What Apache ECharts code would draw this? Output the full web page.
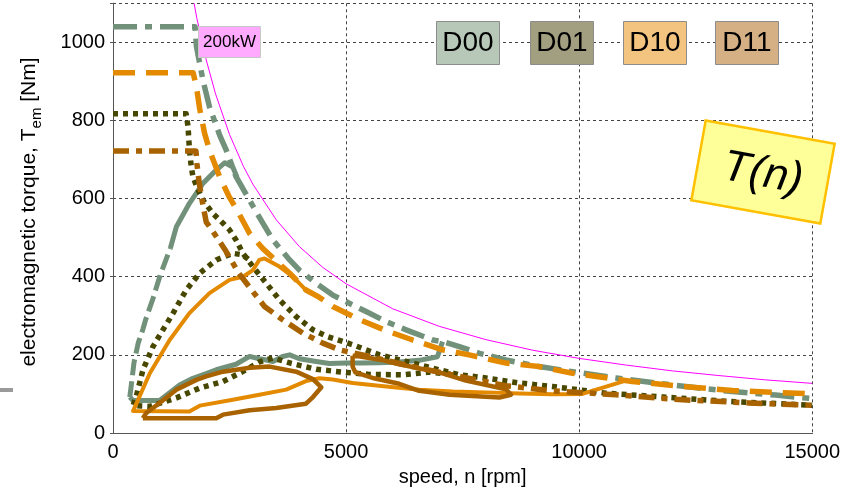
<!DOCTYPE html>
<html>
<head>
<meta charset="utf-8">
<script src="https://cdn.jsdelivr.net/npm/echarts@6/dist/echarts.min.js"></script>
<style>
  html, body { margin: 0; padding: 0; background: #ffffff; }
  #chart { width: 843px; height: 494px; }
</style>
</head>
<body>
<div id="chart"></div>
<script>
const FONT = '"Liberation Sans", Arial, Helvetica, sans-serif';

// axis ticks
const speedTicks = [0, 5000, 10000, 15000];
const torqueTicks = [0, 200, 400, 600, 800, 1000];

// design variants
const designNames = ['D00', 'D01', 'D10', 'D11'];
const lineColors = ['#72917a', '#474700', '#e38a00', '#a86300'];
const boxColors = ['#b8c8b8', '#a29f80', '#f2c480', '#d4b084'];

// 200 kW constant-power limit [rpm, Nm]
const power200kW = [[1740, 1100], [1800, 1061], [2000, 955], [2200, 868], [2500, 764], [2800, 682],
  [3000, 637], [3500, 546], [4000, 477], [4500, 424], [5000, 382], [6000, 318], [7000, 273],
  [8000, 239], [9000, 212], [10000, 191], [11000, 174], [12000, 159], [13000, 147], [14000, 136], [15000, 127]];

// D00: maximum torque envelope
const d00Envelope = [[0, 1040], [1760, 1040], [1790, 990], [1860, 946], [1930, 903], [2070, 835], [2290, 762],
  [2430, 724], [2640, 656], [2930, 596], [3214, 537], [3430, 494], [3790, 443], [4000, 417], [4360, 383],
  [4715, 353], [5070, 332], [5430, 311], [5860, 285], [6290, 264], [6860, 238], [7070, 234], [7430, 221],
  [7860, 204], [8430, 187], [9140, 170], [9860, 157], [10790, 141], [11640, 128], [12570, 115],
  [13290, 106], [14220, 97], [15000, 88]];
// D00: operating region boundary (rising flank, then upper part, then lower part)
const d00Rise = [[360, 92], [390, 120], [450, 180], [540, 230], [640, 265], [700, 290], [860, 345],
  [1015, 405], [1230, 473]];
const d00Upper = [[1230, 473], [1360, 528], [1640, 588], [1930, 639], [2215, 673], [2400, 692],
  [2570, 681], [2660, 655]];
const d00Lower = [[7070, 234], [6960, 195], [6570, 186], [6140, 182], [5715, 180], [5290, 179],
  [5000, 179], [4640, 178], [4360, 183], [4000, 190], [3790, 200], [3640, 196], [3430, 183],
  [3290, 187], [3140, 190], [2930, 196], [2640, 176], [2215, 162], [2000, 152], [1715, 140],
  [1430, 123], [1000, 83], [430, 83], [360, 92]];

// D01
const d01Envelope = [[0, 817], [1570, 817], [1610, 784], [1640, 724], [1680, 681], [1715, 656],
  [1800, 630], [1930, 596], [2144, 562], [2360, 537], [2500, 520], [2640, 494], [2786, 460],
  [3000, 426], [3290, 383], [3570, 341], [3930, 298], [4290, 264], [4600, 247], [5140, 226],
  [5715, 200], [6290, 183], [6860, 166], [7430, 149], [8000, 141], [8715, 128], [9430, 119],
  [10570, 102], [11800, 92], [13200, 81], [15000, 71]];
const d01Region = [[2900, 445], [2786, 456], [2570, 460], [2215, 443], [1860, 409], [1570, 366],
  [1290, 307], [1000, 250], [857, 221], [643, 162], [500, 94], [430, 70], [790, 68], [1360, 90],
  [1860, 115], [2360, 132], [2750, 155], [3143, 182], [3430, 192], [3830, 178], [4360, 163],
  [5000, 155], [5500, 150], [6215, 149], [6790, 156], [7300, 150]];

// D10
const d10Envelope = [[0, 922], [1720, 922], [1790, 886], [1860, 830], [1965, 767], [2070, 724],
  [2290, 655], [2500, 603], [2700, 562], [2930, 511], [3215, 472], [3790, 409], [4140, 366],
  [4430, 347], [4715, 324], [5000, 307], [5290, 290], [5860, 262], [6430, 238], [7070, 213],
  [7640, 200], [8430, 179], [9140, 170], [9860, 153], [11140, 132], [12220, 119], [13290, 109], [15000, 100]];
const d10Region = [[11000, 134], [10070, 100], [9430, 99], [8720, 101], [8000, 104], [7290, 106],
  [6570, 111], [5860, 119], [5140, 128], [4715, 137], [4430, 140], [4140, 133], [3715, 111],
  [3140, 98], [2570, 85], [1860, 70], [1640, 55], [430, 56], [790, 153], [1215, 238],
  [1640, 307], [2070, 358], [2500, 392], [2790, 400], [3000, 417], [3140, 443], [3250, 447],
  [3570, 426], [3860, 400], [4000, 383], [4140, 366]];

// D11
const d11Envelope = [[0, 722], [1780, 722], [1800, 690], [1850, 640], [1920, 590], [2000, 540],
  [2150, 515], [2400, 470], [2700, 409], [3000, 362], [3250, 324], [3640, 290], [4070, 256],
  [4500, 230], [4860, 213], [5500, 196], [6140, 178], [6430, 170], [7430, 145], [8430, 121],
  [9430, 108], [10790, 98], [12220, 85], [13640, 77], [15000, 71]];
const d11RegionLow = [[640, 38], [2215, 38], [2360, 47], [2930, 58], [3500, 64], [4140, 75],
  [4290, 92], [4470, 117], [4290, 138], [3930, 157], [3360, 170], [2930, 167], [2360, 157],
  [2000, 145], [1790, 136], [1360, 111], [1000, 77], [714, 51], [640, 38]];
const d11RegionHigh = [[5140, 198], [5300, 196], [5800, 186], [6140, 176], [7000, 155], [7570, 134],
  [8430, 112], [8540, 98], [8290, 91], [7220, 98], [6570, 108], [6140, 126], [5600, 140],
  [5200, 155], [5140, 170], [5140, 198]];

function curve(name, data, color, width, type) {
  return {
    type: 'line', name: name, data: data,
    symbol: 'none', showSymbol: false, silent: true, animation: false,
    lineStyle: { color: color, width: width, type: type, cap: 'butt', join: 'round' }
  };
}

const DASHDOT = [24, 8, 7, 8];
const DASH = [22, 11];
const DOT = [5, 5];

const series = [
  curve('D00', d00Envelope, lineColors[0], 5.5, DASHDOT),
  curve('D00', d00Rise, lineColors[0], 5, [16, 6]),
  curve('D00', d00Upper, lineColors[0], 5, 'solid'),
  curve('D00', d00Lower, lineColors[0], 5, 'solid'),
  curve('D01', d01Envelope, lineColors[1], 5.5, DOT),
  curve('D01', d01Region, lineColors[1], 5.5, DOT),
  curve('D10', d10Envelope, lineColors[2], 5.5, DASH),
  curve('D10', d10Region, lineColors[2], 4, 'solid'),
  curve('D11', d11Envelope, lineColors[3], 5.5, [16, 7, 6, 7]),
  curve('D11', d11RegionLow, lineColors[3], 4.5, 'solid'),
  curve('D11', d11RegionHigh, lineColors[3], 4.5, 'solid'),
  curve('200kW', power200kW, '#ff00ff', 1, 'solid')
];

// design tags across the top of the plot
const tagLeft = [436, 530, 623, 715];
const tagGraphics = designNames.map(function (name, i) {
  return {
    type: 'group', left: tagLeft[i], top: 21, z: 100,
    children: [
      { type: 'rect', z: 100, shape: { x: 0, y: 0, width: 63, height: 43 },
        style: { fill: boxColors[i], stroke: '#8c8c8c', lineWidth: 1 } },
      { type: 'text', z: 101, x: 31.5, y: 22,
        style: { text: name, font: '28px ' + FONT, fill: '#000', align: 'center', verticalAlign: 'middle',
                 textAlign: 'center', textVerticalAlign: 'middle' } }
    ]
  };
});

const plainNumber = function (v) { return String(v); };

const option = {
  animation: false,
  backgroundColor: '#ffffff',
  grid: { left: 113, right: 30, top: 3.3, bottom: 61, containLabel: false },
  xAxis: [
    {
      type: 'value', min: speedTicks[0], max: speedTicks[speedTicks.length - 1], interval: 5000,
      name: 'speed, n [rpm]', nameLocation: 'middle', nameGap: 34,
      nameTextStyle: { fontFamily: FONT, fontSize: 20, color: '#000' },
      axisLine: { lineStyle: { color: '#000', width: 1 } },
      axisTick: { show: false },
      axisLabel: { fontFamily: FONT, fontSize: 20, color: '#000', margin: 9, formatter: plainNumber },
      splitLine: { show: true, lineStyle: { color: '#444', width: 1, type: [3, 3] } }
    },
    {
      type: 'value', position: 'top', min: 0, max: 15000, interval: 5000,
      axisLine: { show: true, lineStyle: { color: '#555', width: 1 } },
      axisTick: { show: false }, axisLabel: { show: false }, splitLine: { show: false }
    }
  ],
  yAxis: [
    {
      type: 'value', min: torqueTicks[0], max: 1100, interval: 200,
      axisLine: { show: true, lineStyle: { color: '#000', width: 1 } },
      axisTick: { show: false },
      axisLabel: { fontFamily: FONT, fontSize: 20, color: '#000', margin: 8, showMaxLabel: false,
                   formatter: plainNumber },
      splitLine: { show: true, lineStyle: { color: '#444', width: 1, type: [3, 3] } }
    },
    {
      type: 'value', position: 'right', min: 0, max: 1100, interval: 200,
      axisLine: { show: true, lineStyle: { color: '#555', width: 1 } },
      axisTick: { show: true, inside: true, length: 3, lineStyle: { color: '#555' } },
      axisLabel: { show: false }, splitLine: { show: false }
    }
  ],
  series: series,
  graphic: [
    // vertical axis title with subscript
    {
      type: 'text', x: 29, y: 212, rotation: Math.PI / 2, z: 10,
      style: {
        text: '{m|electromagnetic torque, T}{s|em}{m| [Nm]}',
        align: 'center', verticalAlign: 'middle', textAlign: 'center', textVerticalAlign: 'middle',
        rich: {
          m: { fontFamily: FONT, fontSize: 21, fill: '#000', lineHeight: 30, verticalAlign: 'middle' },
          s: { fontFamily: FONT, fontSize: 15, fill: '#000', lineHeight: 15, verticalAlign: 'bottom' }
        }
      }
    },
    // power limit tag
    {
      type: 'group', left: 198, top: 26, z: 100,
      children: [
        { type: 'rect', z: 100, shape: { x: 0, y: 0, width: 62, height: 31 },
          style: { fill: '#ffaaff', stroke: '#c8c8c8', lineWidth: 1 } },
        { type: 'text', z: 101, x: 31, y: 16,
          style: { text: '200kW', font: '17px ' + FONT, fill: '#000', align: 'center', verticalAlign: 'middle',
                   textAlign: 'center', textVerticalAlign: 'middle' } }
      ]
    },
    // curve-type badge
    {
      type: 'group', x: 763, y: 172, rotation: -10.2 * Math.PI / 180, z: 100,
      children: [
        { type: 'rect', z: 100, shape: { x: -65.5, y: -40.5, width: 131, height: 81 },
          style: { fill: '#ffff99', stroke: '#ffc000', lineWidth: 2.5 } },
        { type: 'text', z: 101, x: 0, y: 2,
          style: { text: 'T(n)', font: 'italic 44px ' + FONT, fill: '#000', align: 'center', verticalAlign: 'middle',
                   textAlign: 'center', textVerticalAlign: 'middle' } }
      ]
    },
    // slide decoration at the left edge
    { type: 'rect', shape: { x: 0, y: 388, width: 13, height: 4 }, style: { fill: '#9a9a9a' } }
  ].concat(tagGraphics)
};

const chart = echarts.init(document.getElementById('chart'), null, { renderer: 'canvas' });
chart.setOption(option);
</script>
</body>
</html>
